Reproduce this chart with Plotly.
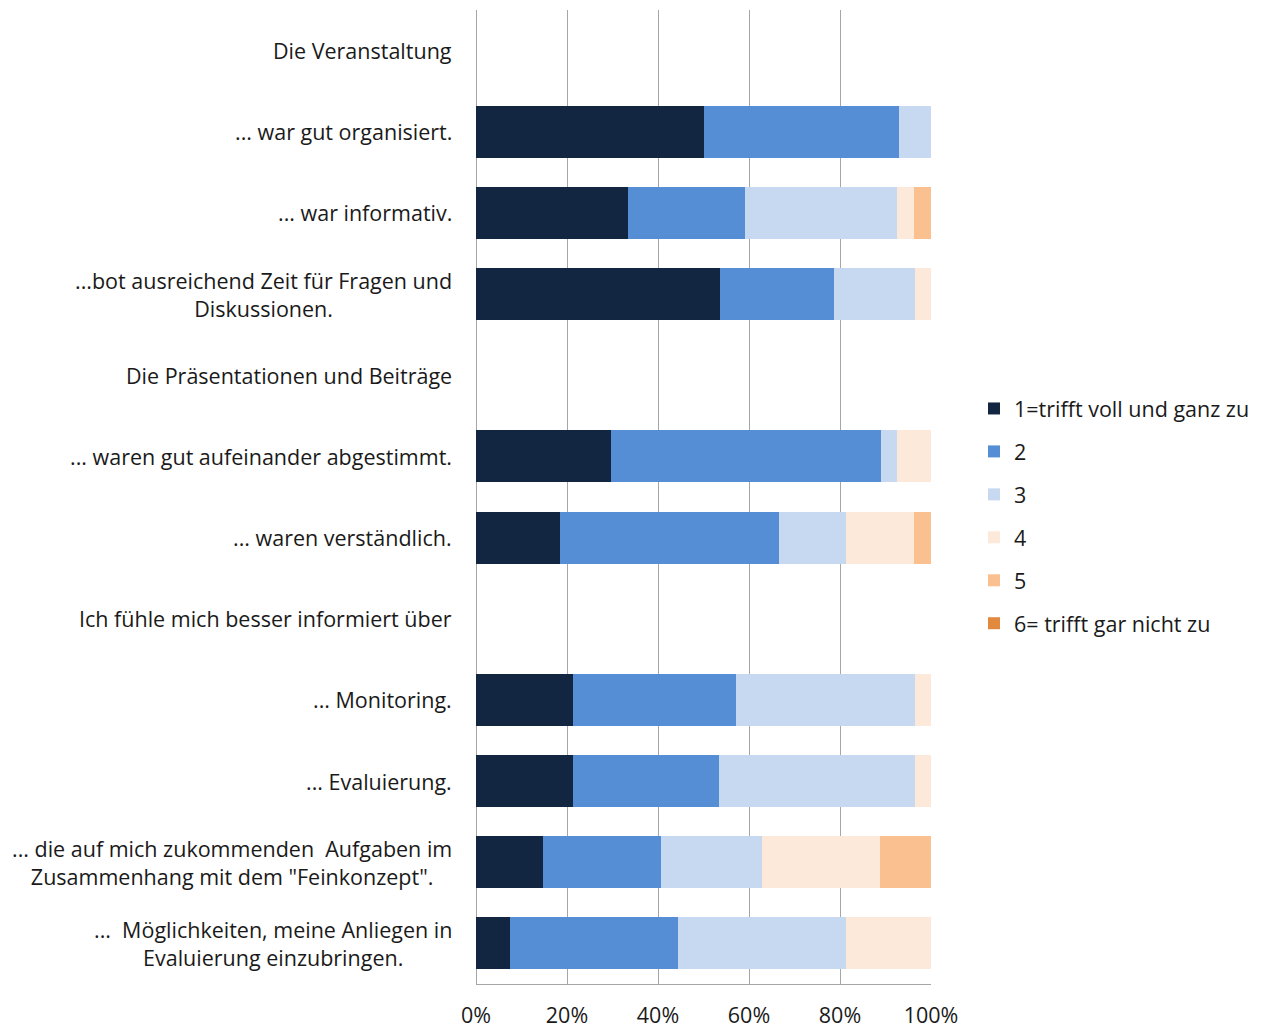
import plotly.graph_objects as go

# Row labels, top to bottom (section headers carry no bars)
rows = [
    "Die Veranstaltung",
    "... war gut organisiert.",
    "... war informativ.",
    "...bot ausreichend Zeit für Fragen und\nDiskussionen.",
    "Die Präsentationen und Beiträge",
    "... waren gut aufeinander abgestimmt.",
    "... waren verständlich.",
    "Ich fühle mich besser informiert über",
    "... Monitoring.",
    "... Evaluierung.",
    "... die auf mich zukommenden  Aufgaben im\nZusammenhang mit dem \"Feinkonzept\".",
    "...  Möglichkeiten, meine Anliegen in\nEvaluierung einzubringen.",
]
headers = ["Die Veranstaltung", "Die Präsentationen und Beiträge",
           "Ich fühle mich besser informiert über"]
items = [r for r in rows if r not in headers]

# Share of answers per rating (percent), one list per rating, in item order
r1 = [50.0, 33.3, 53.6, 29.6, 18.5, 21.4, 21.4, 14.8, 7.4]
r2 = [42.9, 25.9, 25.0, 59.3, 48.1, 35.7, 32.1, 25.9, 37.0]
r3 = [7.1, 33.3, 17.9, 3.7, 14.8, 39.3, 42.9, 22.2, 37.0]
r4 = [0.0, 3.7, 3.6, 7.4, 14.8, 3.6, 3.6, 25.9, 18.5]
r5 = [0.0, 3.7, 0.0, 0.0, 3.7, 0.0, 0.0, 11.1, 0.0]
r6 = [0.0, 0.0, 0.0, 0.0, 0.0, 0.0, 0.0, 0.0, 0.0]

series_names = ["1=trifft voll und ganz zu", "2", "3", "4", "5", "6= trifft gar nicht zu"]
series_values = [r1, r2, r3, r4, r5, r6]
colors = ["#122642", "#558ED5", "#C6D9F1", "#FDE9D9", "#FAC090", "#E0893F"]
x_ticks = [0, 20, 40, 60, 80, 100]

FONT = "Open Sans"
FS = 21.5
TEXT = "#1a1a1a"

fig = go.Figure()
for i, (name, vals, col) in enumerate(zip(series_names, series_values, colors)):
    fig.add_trace(go.Bar(
        y=items, x=vals, name=name, orientation="h",
        marker=dict(color=col, line=dict(width=0)),
        legendgroup=f"g{i}",
        hoverinfo="x+name",
    ))

# Row labels as centred multi-line annotations right-aligned to the axis
for r in rows:
    fig.add_annotation(
        x=0, xref="paper", y=r, yref="y",
        text=r.replace("\n", "<br>"),
        xanchor="right", yanchor="middle", align="center",
        xshift=-22, showarrow=False,
        font=dict(family=FONT, size=FS, color=TEXT),
    )

fig.update_layout(
    barmode="stack",
    bargap=0.36,
    width=1265, height=1030,
    margin=dict(l=476, r=334, t=10, b=46, autoexpand=False),
    paper_bgcolor="white", plot_bgcolor="white",
    font=dict(family=FONT, size=FS, color=TEXT),
    showlegend=True,
    legend=dict(
        x=1.0945, xanchor="left", y=0.4805, yanchor="middle",
        tracegroupgap=12, font=dict(family=FONT, size=FS, color=TEXT),
        itemclick=False, itemdoubleclick=False,
    ),
    xaxis=dict(
        range=[0, 100], tickvals=x_ticks, ticktext=[f"{v}%" for v in x_ticks],
        showgrid=True, gridcolor="#A6A6A6", gridwidth=1,
        zeroline=True, zerolinecolor="#A6A6A6", zerolinewidth=1,
        showline=True, linecolor="#A6A6A6", linewidth=1,
        ticks="", ticklabelstandoff=12, automargin=False,
        tickfont=dict(family=FONT, size=FS, color=TEXT),
        fixedrange=True,
    ),
    yaxis=dict(
        type="category", categoryorder="array", categoryarray=rows,
        autorange=False, range=[len(rows) - 0.5, -0.5],
        showticklabels=False, showgrid=False, zeroline=False, ticks="",
        automargin=False, fixedrange=True,
    ),
)

fig.write_html("out.html")
